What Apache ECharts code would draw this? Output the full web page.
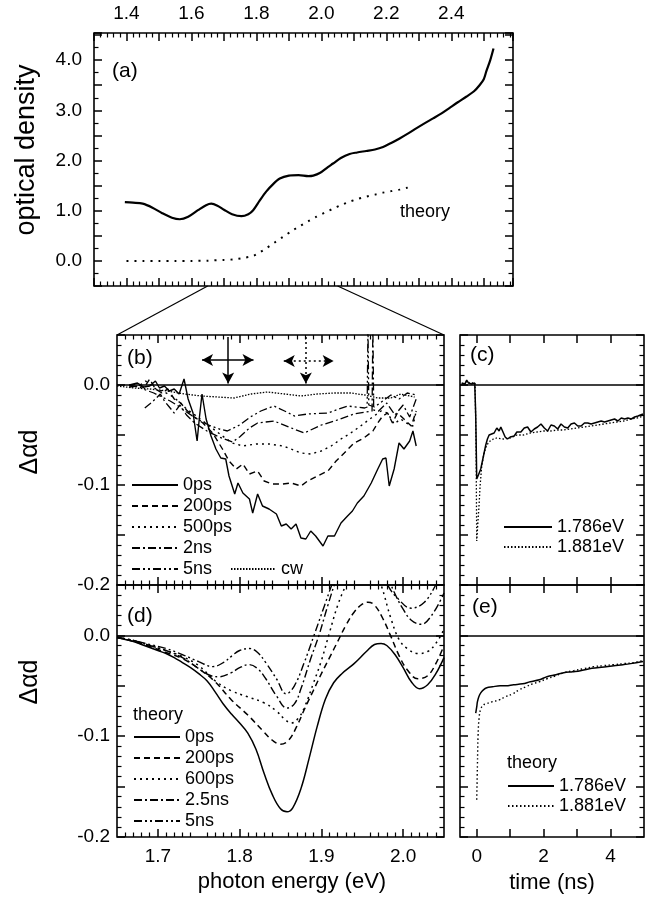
<!DOCTYPE html>
<html><head><meta charset="utf-8">
<script src="https://cdn.jsdelivr.net/npm/echarts@6/dist/echarts.min.js"></script>
<style>html,body{margin:0;padding:0;background:#fff}#c{width:650px;height:899px}</style>
</head><body><div id="c"></div>
<script>
// ---------- DATA ----------
// (a) optical density vs photon energy (eV)
const odMeasured = [[1.395,1.17],[1.42,1.16],[1.45,1.14],[1.48,1.06],[1.51,0.95],[1.54,0.86],[1.564,0.83],[1.59,0.88],[1.62,1.01],[1.645,1.11],[1.661,1.14],[1.68,1.10],[1.70,1.02],[1.725,0.93],[1.754,0.89],[1.775,0.93],[1.79,1.01],[1.81,1.20],[1.83,1.38],[1.85,1.52],[1.872,1.64],[1.90,1.70],[1.93,1.71],[1.96,1.69],[1.975,1.70],[1.995,1.75],[2.02,1.87],[2.036,1.94],[2.06,2.05],[2.087,2.13],[2.11,2.16],[2.138,2.19],[2.165,2.22],[2.19,2.27],[2.215,2.35],[2.241,2.44],[2.27,2.55],[2.292,2.64],[2.32,2.75],[2.344,2.84],[2.37,2.94],[2.395,3.05],[2.42,3.16],[2.446,3.27],[2.47,3.38],[2.487,3.50],[2.5,3.62],[2.508,3.78],[2.52,4.0],[2.53,4.23]];
const odTheory = [[1.4,0],[1.45,0],[1.5,0],[1.55,0],[1.6,0],[1.65,0.005],[1.7,0.02],[1.73,0.03],[1.76,0.06],[1.79,0.1],[1.81,0.17],[1.83,0.25],[1.855,0.36],[1.882,0.48],[1.91,0.6],[1.933,0.69],[1.96,0.79],[1.985,0.88],[2.01,0.96],[2.036,1.04],[2.06,1.11],[2.087,1.18],[2.11,1.23],[2.138,1.28],[2.165,1.32],[2.19,1.36],[2.215,1.39],[2.241,1.42],[2.26,1.45],[2.285,1.49]];
const energyTicksA = [1.4,1.6,1.8,2.0,2.2,2.4];
const odTicks = [0,1,2,3,4];

// (b) measured differential absorption spectra
const delaysB = ['0ps','200ps','500ps','2ns','5ns','cw'];
const b0ps = [[1.665,0.0],[1.675,0.002],[1.683,-0.002],[1.69,-0.001],[1.697,0.004],[1.702,-0.003],[1.708,-0.001],[1.714,-0.006],[1.72,-0.004],[1.726,-0.009],[1.732,0.006],[1.737,-0.014],[1.743,-0.028],[1.748,-0.056],[1.751,-0.031],[1.754,-0.009],[1.759,-0.034],[1.765,-0.051],[1.771,-0.064],[1.777,-0.073],[1.783,-0.074],[1.787,-0.091],[1.794,-0.109],[1.798,-0.098],[1.804,-0.108],[1.812,-0.114],[1.816,-0.128],[1.822,-0.109],[1.828,-0.121],[1.836,-0.124],[1.845,-0.129],[1.851,-0.141],[1.857,-0.139],[1.863,-0.144],[1.869,-0.139],[1.875,-0.153],[1.881,-0.154],[1.887,-0.146],[1.893,-0.151],[1.902,-0.161],[1.908,-0.151],[1.916,-0.151],[1.924,-0.138],[1.932,-0.131],[1.938,-0.126],[1.944,-0.118],[1.952,-0.111],[1.961,-0.098],[1.969,-0.084],[1.975,-0.074],[1.979,-0.073],[1.983,-0.101],[1.989,-0.084],[1.995,-0.058],[2.001,-0.064],[2.008,-0.056],[2.012,-0.046],[2.016,-0.061]];
const b200ps = [[1.665,-0.001],[1.675,0.001],[1.683,-0.003],[1.69,0.006],[1.697,-0.004],[1.705,-0.008],[1.712,-0.004],[1.72,-0.014],[1.728,-0.018],[1.735,-0.025],[1.743,-0.031],[1.755,-0.038],[1.767,-0.048],[1.779,-0.064],[1.787,-0.076],[1.796,-0.084],[1.804,-0.079],[1.812,-0.089],[1.822,-0.086],[1.83,-0.096],[1.84,-0.099],[1.853,-0.099],[1.863,-0.098],[1.875,-0.101],[1.883,-0.096],[1.895,-0.091],[1.908,-0.086],[1.918,-0.076],[1.928,-0.068],[1.94,-0.058],[1.952,-0.053],[1.963,-0.046],[1.969,-0.038],[1.975,-0.031],[1.981,-0.028],[1.987,-0.038],[1.993,-0.028],[2.001,-0.034],[2.01,-0.041],[2.016,-0.026]];
const b500ps = [[1.665,0.0],[1.675,-0.002],[1.685,0.004],[1.695,-0.003],[1.705,-0.006],[1.715,-0.01],[1.725,-0.016],[1.735,-0.024],[1.747,-0.031],[1.763,-0.041],[1.779,-0.051],[1.791,-0.058],[1.804,-0.061],[1.82,-0.059],[1.836,-0.059],[1.853,-0.061],[1.863,-0.064],[1.875,-0.068],[1.887,-0.069],[1.9,-0.066],[1.912,-0.061],[1.924,-0.054],[1.936,-0.048],[1.948,-0.041],[1.961,-0.033],[1.973,-0.026],[1.981,-0.028],[1.989,-0.039],[1.997,-0.034],[2.006,-0.039],[2.012,-0.041],[2.016,-0.026]];
const b2ns = [[1.684,-0.023],[1.69,-0.019],[1.697,-0.014],[1.703,-0.009],[1.708,-0.016],[1.714,-0.022],[1.72,-0.028],[1.727,-0.02],[1.735,-0.03],[1.745,-0.038],[1.76,-0.046],[1.775,-0.052],[1.791,-0.057],[1.8,-0.052],[1.812,-0.043],[1.822,-0.038],[1.842,-0.036],[1.86,-0.042],[1.879,-0.048],[1.9,-0.04],[1.916,-0.036],[1.94,-0.029],[1.955,-0.027],[1.962,-0.026],[1.963,0.06],[1.964,-0.025],[1.97,-0.026],[1.98,-0.018],[1.99,-0.03],[2.0,-0.02],[2.008,-0.032],[2.016,-0.014]];
const b5ns = [[1.665,-0.002],[1.675,-0.001],[1.685,-0.005],[1.695,-0.008],[1.705,-0.012],[1.715,-0.016],[1.725,-0.021],[1.735,-0.027],[1.748,-0.034],[1.762,-0.04],[1.775,-0.044],[1.785,-0.046],[1.8,-0.04],[1.813,-0.032],[1.826,-0.026],[1.842,-0.021],[1.855,-0.026],[1.867,-0.031],[1.883,-0.029],[1.908,-0.028],[1.932,-0.021],[1.953,-0.023],[1.956,-0.022],[1.957,0.06],[1.958,-0.02],[1.965,-0.022],[1.975,-0.016],[1.985,-0.01],[1.995,-0.014],[2.005,-0.008],[2.016,-0.01]];
const bCw = [[1.65,-0.001],[1.671,-0.003],[1.69,-0.004],[1.712,-0.006],[1.733,-0.009],[1.753,-0.011],[1.773,-0.012],[1.793,-0.013],[1.814,-0.009],[1.834,-0.007],[1.855,-0.009],[1.875,-0.011],[1.895,-0.009],[1.916,-0.008],[1.936,-0.008],[1.953,-0.01],[1.969,-0.013],[1.985,-0.013],[1.997,-0.009],[2.014,-0.012]];

// (d) theory spectra
const delaysD = ['0ps','200ps','600ps','2.5ns','5ns'];
const d0ps = [[1.65,-0.002],[1.66,-0.004],[1.67,-0.006],[1.68,-0.009],[1.69,-0.012],[1.70,-0.015],[1.71,-0.018],[1.72,-0.022],[1.73,-0.027],[1.74,-0.032],[1.75,-0.038],[1.76,-0.045],[1.77,-0.056],[1.78,-0.068],[1.79,-0.078],[1.80,-0.087],[1.81,-0.097],[1.82,-0.113],[1.83,-0.137],[1.84,-0.158],[1.85,-0.172],[1.858,-0.175],[1.865,-0.171],[1.875,-0.152],[1.885,-0.122],[1.895,-0.09],[1.905,-0.063],[1.915,-0.047],[1.925,-0.038],[1.94,-0.028],[1.955,-0.016],[1.965,-0.009],[1.973,-0.008],[1.98,-0.01],[1.99,-0.019],[2.0,-0.032],[2.01,-0.046],[2.02,-0.053],[2.03,-0.049],[2.04,-0.038],[2.05,-0.022]];
const d200ps = [[1.65,-0.002],[1.67,-0.006],[1.69,-0.011],[1.71,-0.017],[1.73,-0.023],[1.75,-0.033],[1.77,-0.046],[1.79,-0.064],[1.81,-0.079],[1.83,-0.096],[1.84,-0.104],[1.85,-0.108],[1.86,-0.104],[1.87,-0.09],[1.88,-0.072],[1.89,-0.055],[1.90,-0.038],[1.91,-0.022],[1.92,-0.006],[1.93,0.01],[1.94,0.023],[1.95,0.031],[1.957,0.033],[1.965,0.03],[1.975,0.017],[1.985,-0.001],[1.995,-0.02],[2.005,-0.034],[2.018,-0.043],[2.03,-0.04],[2.04,-0.028],[2.05,-0.01]];
const d600ps = [[1.65,-0.002],[1.67,-0.005],[1.69,-0.01],[1.71,-0.015],[1.73,-0.021],[1.75,-0.03],[1.77,-0.045],[1.79,-0.055],[1.81,-0.061],[1.83,-0.067],[1.845,-0.075],[1.855,-0.083],[1.863,-0.087],[1.872,-0.082],[1.88,-0.07],[1.89,-0.048],[1.90,-0.025],[1.91,0.003],[1.92,0.03],[1.93,0.05],[1.94,0.068],[1.952,0.075],[1.963,0.068],[1.973,0.05],[1.985,0.017],[1.995,-0.004],[2.005,-0.013],[2.018,-0.018],[2.03,-0.016],[2.04,-0.008],[2.05,0.006]];
const d2p5ns = [[1.65,-0.002],[1.67,-0.005],[1.69,-0.01],[1.71,-0.015],[1.73,-0.022],[1.75,-0.033],[1.765,-0.04],[1.775,-0.041],[1.79,-0.037],[1.80,-0.032],[1.812,-0.029],[1.822,-0.033],[1.832,-0.043],[1.845,-0.06],[1.858,-0.072],[1.867,-0.068],[1.875,-0.053],[1.887,-0.023],[1.897,0.0],[1.908,0.03],[1.92,0.06],[1.935,0.09],[1.95,0.1],[1.965,0.09],[1.978,0.065],[1.989,0.043],[2.0,0.026],[2.01,0.015],[2.022,0.011],[2.035,0.02],[2.05,0.042]];
const d5ns = [[1.65,-0.002],[1.67,-0.005],[1.69,-0.009],[1.71,-0.013],[1.73,-0.019],[1.75,-0.026],[1.767,-0.031],[1.78,-0.027],[1.791,-0.02],[1.80,-0.015],[1.812,-0.013],[1.822,-0.017],[1.832,-0.027],[1.845,-0.043],[1.857,-0.058],[1.867,-0.05],[1.879,-0.027],[1.891,0.0],[1.904,0.03],[1.915,0.055],[1.93,0.085],[1.945,0.1],[1.96,0.09],[1.972,0.068],[1.981,0.05],[1.993,0.037],[2.01,0.027],[2.026,0.033],[2.04,0.05],[2.05,0.065]];
const energyTicksBD = [1.7,1.8,1.9,2.0];
const dadTicks = [0,-0.1,-0.2];
const zoomRange = [1.65, 2.05];

// (c) measured transients, (e) theory transients
const probeEnergies = ['1.786eV','1.881eV'];
const c1786 = [[-0.45,0.002],[-0.4,0.004],[-0.35,0.001],[-0.3,0.005],[-0.25,0.002],[-0.2,0.004],[-0.15,0.001],[-0.1,0.003],[-0.06,0.002],[-0.03,-0.03],[0.0,-0.094],[0.05,-0.09],[0.12,-0.084],[0.17,-0.076],[0.22,-0.068],[0.27,-0.06],[0.32,-0.054],[0.37,-0.05],[0.42,-0.049],[0.52,-0.048],[0.6,-0.043],[0.67,-0.046],[0.72,-0.042],[0.77,-0.044],[0.85,-0.052],[0.92,-0.054],[1.0,-0.052],[1.12,-0.051],[1.2,-0.047],[1.32,-0.047],[1.42,-0.043],[1.52,-0.042],[1.62,-0.047],[1.72,-0.044],[1.82,-0.042],[1.92,-0.039],[2.02,-0.043],[2.12,-0.046],[2.22,-0.04],[2.32,-0.041],[2.42,-0.044],[2.52,-0.039],[2.62,-0.042],[2.72,-0.043],[2.82,-0.039],[2.92,-0.038],[3.02,-0.041],[3.12,-0.041],[3.22,-0.038],[3.32,-0.038],[3.42,-0.039],[3.52,-0.038],[3.62,-0.037],[3.72,-0.036],[3.82,-0.037],[3.92,-0.036],[4.02,-0.035],[4.12,-0.034],[4.22,-0.036],[4.32,-0.033],[4.42,-0.034],[4.52,-0.033],[4.62,-0.034],[4.72,-0.032],[4.82,-0.031],[4.97,-0.029]];
const c1881 = [[-0.45,0.001],[-0.3,0.003],[-0.15,0.002],[-0.05,0.002],[-0.02,-0.06],[0.0,-0.156],[0.03,-0.14],[0.07,-0.12],[0.1,-0.101],[0.15,-0.081],[0.22,-0.068],[0.3,-0.06],[0.4,-0.056],[0.5,-0.054],[0.6,-0.053],[0.8,-0.054],[1.0,-0.053],[1.2,-0.05],[1.4,-0.05],[1.6,-0.048],[1.8,-0.047],[2.0,-0.046],[2.2,-0.046],[2.4,-0.045],[2.6,-0.045],[2.8,-0.044],[3.0,-0.043],[3.2,-0.042],[3.4,-0.041],[3.6,-0.04],[3.8,-0.039],[4.0,-0.038],[4.2,-0.037],[4.4,-0.036],[4.6,-0.034],[4.8,-0.033],[4.97,-0.031]];
const e1786 = [[-0.03,-0.077],[0.0,-0.071],[0.02,-0.066],[0.06,-0.061],[0.12,-0.057],[0.2,-0.054],[0.3,-0.052],[0.47,-0.051],[0.7,-0.05],[0.87,-0.05],[1.1,-0.049],[1.37,-0.048],[1.6,-0.046],[1.87,-0.044],[2.1,-0.041],[2.37,-0.039],[2.6,-0.037],[2.87,-0.036],[3.1,-0.035],[3.37,-0.033],[3.6,-0.032],[3.87,-0.031],[4.1,-0.03],[4.37,-0.029],[4.6,-0.028],[4.97,-0.026]];
const e1881 = [[0.0,-0.163],[0.02,-0.13],[0.04,-0.1],[0.07,-0.082],[0.12,-0.073],[0.2,-0.069],[0.27,-0.068],[0.45,-0.066],[0.67,-0.064],[0.85,-0.061],[1.07,-0.058],[1.27,-0.054],[1.47,-0.051],[1.67,-0.048],[1.87,-0.046],[2.1,-0.043],[2.37,-0.04],[2.6,-0.037],[2.9,-0.035],[3.2,-0.033],[3.5,-0.031],[3.8,-0.03],[4.1,-0.029],[4.4,-0.028],[4.7,-0.027],[4.97,-0.025]];
const timeLabels = [0,2,4];
const timeTicks = [0,1,2,3,4];
const pumpArrow = [1.786, 1.881];
const pumpWidth = [[1.754,1.817],[1.854,1.915]];

// ---------- STYLES ----------
const FONT = '"Liberation Sans", Arial, Helvetica, sans-serif';
const K = '#000';
const SOLID = 'solid', DASH = [6,4], DOT = [2,4], DASHDOT = [8,3,2,3], DASHDOTDOT = [8,3,2,3,2,3], FINE = [1.5,1.5], SPARSE = [2,6];

const chart = echarts.init(document.getElementById('c'), null, {renderer:'canvas'});

const MAJ = {show:true, inside:true, length:8, lineStyle:{color:K, width:1.5}};
const MIN = (n) => ({show:true, splitNumber:n, length:4.5, lineStyle:{color:K, width:1.2}});
function axisOf(grid, pos, min, max, interval, extra) {
  return Object.assign({
    type:'value', gridIndex:grid, position:pos, min, max, interval,
    axisLine:{show:false, onZero:false}, splitLine:{show:false}, minorSplitLine:{show:false},
    axisTick:MAJ, minorTick:{show:false}, axisLabel:{show:false}
  }, extra || {});
}
const tickLbl = (vals, fmt, margin) => ({show:true, customValues:vals, color:K, fontSize:19, fontFamily:FONT, margin, formatter:fmt});
const f1 = v => (Math.abs(v) < 1e-9 ? 0 : v).toFixed(1);
const eTick = Object.assign({}, MAJ, {customValues:energyTicksBD});
const tTick = Object.assign({}, MAJ, {customValues:timeTicks});

const xAxes = [
  // 0,1 : (a)
  axisOf(0,'top',1.3,2.59,0.1,{minorTick:MIN(5), axisLabel:tickLbl(energyTicksA,f1,10)}),
  axisOf(0,'bottom',1.3,2.59,0.1,{minorTick:MIN(5)}),
  // 2,3 : (b)
  axisOf(1,'top',zoomRange[0],zoomRange[1],0.05,{axisTick:eTick,minorTick:MIN(5)}),
  axisOf(1,'bottom',zoomRange[0],zoomRange[1],0.05,{axisTick:eTick,minorTick:MIN(5)}),
  // 4,5 : (d)
  axisOf(2,'top',zoomRange[0],zoomRange[1],0.05,{axisTick:eTick,minorTick:MIN(5)}),
  axisOf(2,'bottom',zoomRange[0],zoomRange[1],0.05,{axisTick:eTick,minorTick:MIN(5), axisLabel:tickLbl(energyTicksBD,f1,10)}),
  // 6,7 : (c)
  axisOf(3,'top',-0.5,5,0.5,{axisTick:tTick}),
  axisOf(3,'bottom',-0.5,5,0.5,{axisTick:tTick}),
  // 8,9 : (e)
  axisOf(4,'top',-0.5,5,0.5,{axisTick:tTick}),
  axisOf(4,'bottom',-0.5,5,0.5,{axisTick:tTick, axisLabel:tickLbl(timeLabels,v=>String(v),10)})
];
const yAxes = [
  axisOf(0,'left',-0.5,4.54,0.5,{minorTick:MIN(2), axisLabel:tickLbl(odTicks,f1,12)}),
  axisOf(0,'right',-0.5,4.54,0.5,{minorTick:MIN(2)}),
  axisOf(1,'left',-0.2,0.05,0.05,{minorTick:MIN(5), axisLabel:tickLbl(dadTicks,f1,7)}),
  axisOf(1,'right',-0.2,0.05,0.05,{minorTick:MIN(5)}),
  axisOf(2,'left',-0.2,0.05,0.05,{minorTick:MIN(5), axisLabel:tickLbl(dadTicks,f1,7)}),
  axisOf(2,'right',-0.2,0.05,0.05,{minorTick:MIN(5)}),
  axisOf(3,'left',-0.2,0.05,0.05,{minorTick:MIN(5)}),
  axisOf(3,'right',-0.2,0.05,0.05,{minorTick:MIN(5)}),
  axisOf(4,'left',-0.2,0.05,0.05,{minorTick:MIN(5)}),
  axisOf(4,'right',-0.2,0.05,0.05,{minorTick:MIN(5)})
];

const zeroLine = {silent:true, symbol:'none', label:{show:false}, animation:false,
  lineStyle:{color:K, type:'solid', width:1.5}, data:[{yAxis:0}]};

function ln(name, data, xi, yi, dash, width, smooth, extra) {
  return Object.assign({type:'line', name, data, xAxisIndex:xi, yAxisIndex:yi, symbol:'none', showSymbol:false,
    smooth: smooth || false, animation:false, silent:true,
    lineStyle:{color:K, width, type:dash}, itemStyle:{color:K}}, extra || {});
}

const arrowMark = {
  silent:true, animation:false, label:{show:false}, symbolSize:[9,11],
  data:[
    [{coord:[pumpArrow[0],0.048], symbol:'none'},{coord:[pumpArrow[0],0.0015], symbol:'arrow', lineStyle:{type:'solid',width:1.5,color:K}}],
    [{coord:[pumpWidth[0][0],0.025], symbol:'arrow'},{coord:[pumpWidth[0][1],0.025], symbol:'arrow', lineStyle:{type:'solid',width:1.5,color:K}}],
    [{coord:[pumpArrow[1],0.048], symbol:'none'},{coord:[pumpArrow[1],0.0015], symbol:'arrow', lineStyle:{type:[2,3],width:1.5,color:K}}],
    [{coord:[pumpWidth[1][0],0.024], symbol:'arrow'},{coord:[pumpWidth[1][1],0.024], symbol:'arrow', lineStyle:{type:[2,3],width:1.5,color:K}}]
  ]
};

const series = [
  ln('a:measured', odMeasured, 0, 0, SOLID, 2.2, 0.3),
  ln('a:theory', odTheory, 0, 0, SPARSE, 2, 0.3),
  ln('b:0ps', b0ps, 3, 2, SOLID, 1.4, false, {markLine:zeroLine}),
  ln('b:200ps', b200ps, 3, 2, DASH, 1.4),
  ln('b:500ps', b500ps, 3, 2, DOT, 1.4),
  ln('b:2ns', b2ns, 3, 2, DASHDOT, 1.3),
  ln('b:5ns', b5ns, 3, 2, DASHDOTDOT, 1.3),
  ln('b:cw', bCw, 3, 2, FINE, 1.3, false, {markLine:arrowMark}),
  ln('d:0ps', d0ps, 5, 4, SOLID, 1.5, 0.4, {markLine:zeroLine}),
  ln('d:200ps', d200ps, 5, 4, DASH, 1.5, 0.4),
  ln('d:600ps', d600ps, 5, 4, DOT, 1.5, 0.4),
  ln('d:2.5ns', d2p5ns, 5, 4, DASHDOT, 1.4, 0.4),
  ln('d:5ns', d5ns, 5, 4, DASHDOTDOT, 1.4, 0.4),
  ln('c:1.786eV', c1786, 7, 6, SOLID, 1.5, false, {markLine:zeroLine, z:4}),
  ln('c:1.881eV', c1881, 7, 6, [1.5,2], 1.3),
  ln('e:1.786eV', e1786, 9, 8, SOLID, 1.5, 0.4, {markLine:zeroLine}),
  ln('e:1.881eV', e1881, 9, 8, [1.5,2.5], 1.4, 0.4)
];

const legendBase = {orient:'vertical', selectedMode:false, padding:0, itemHeight:10,
  itemStyle:{opacity:0}, textStyle:{fontSize:18, fontFamily:FONT, color:K, padding:[0,0,0,0]},
  formatter: n => n.split(':')[1]};
const legends = [
  Object.assign({}, legendBase, {data:delaysB.slice(0,5).map(d=>'b:'+d), left:131, top:476, itemWidth:46, itemGap:3}),
  Object.assign({}, legendBase, {data:['b:cw'], left:230, top:560, itemWidth:45, itemGap:3}),
  Object.assign({}, legendBase, {data:delaysD.map(d=>'d:'+d), left:133, top:728, itemWidth:46, itemGap:3}),
  Object.assign({}, legendBase, {data:probeEnergies.map(d=>'c:'+d), left:503, top:518, itemWidth:48, itemGap:2}),
  Object.assign({}, legendBase, {data:probeEnergies.map(d=>'e:'+d), left:507, top:777, itemWidth:46, itemGap:2})
];

function txt(x, y, s, size) {
  return {type:'text', x, y, silent:true,
    style:{text:s, fill:K, font:size+'px '+FONT, textAlign:'left', textVerticalAlign:'middle'}};
}
function rtxt(x, y, s, size) {
  return {type:'text', x, y, rotation:Math.PI/2, silent:true,
    style:{text:s, fill:K, font:size+'px '+FONT, textAlign:'center', textVerticalAlign:'middle'}};
}
function ctxt(x, y, s, size) {
  return {type:'text', x, y, silent:true,
    style:{text:s, fill:K, font:size+'px '+FONT, textAlign:'center', textVerticalAlign:'middle'}};
}

const grids = [
  {left:94, top:33, width:419, height:253},
  {left:117, top:335, width:327, height:250},
  {left:117, top:585, width:327, height:252},
  {left:460, top:335, width:184, height:250},
  {left:460, top:585, width:184, height:252}
].map(g => Object.assign(g, {show:true, borderColor:K, borderWidth:1.6, backgroundColor:'transparent', containLabel:false}));

chart.setOption({
  animation:false,
  backgroundColor:'#fff',
  textStyle:{fontFamily:FONT},
  grid:grids, xAxis:xAxes, yAxis:yAxes, series, legend:legends
});

// connecting lines from the zoom window of (a) to panel (b), plus texts
const pA0 = chart.convertToPixel({xAxisIndex:1, yAxisIndex:0}, [zoomRange[0], -0.5]);
const pA1 = chart.convertToPixel({xAxisIndex:1, yAxisIndex:0}, [zoomRange[1], -0.5]);
const pB0 = chart.convertToPixel({xAxisIndex:3, yAxisIndex:2}, [zoomRange[0], 0.05]);
const pB1 = chart.convertToPixel({xAxisIndex:3, yAxisIndex:2}, [zoomRange[1], 0.05]);

chart.setOption({graphic:[
  {type:'line', silent:true, shape:{x1:pA0[0],y1:pA0[1],x2:pB0[0],y2:pB0[1]}, style:{stroke:K, lineWidth:1.2}},
  {type:'line', silent:true, shape:{x1:pA1[0],y1:pA1[1],x2:pB1[0],y2:pB1[1]}, style:{stroke:K, lineWidth:1.2}},
  txt(112, 71, '(a)', 21),
  txt(127, 358, '(b)', 21),
  txt(470, 355, '(c)', 21),
  txt(127, 616, '(d)', 21),
  txt(472, 607, '(e)', 21),
  txt(400, 212, 'theory', 18),
  txt(133, 715, 'theory', 18),
  txt(507, 763, 'theory', 18),
  rtxt(27, 150, 'optical density', 27),
  rtxt(30, 452, 'Δαd', 25),
  rtxt(30, 682, 'Δαd', 25),
  ctxt(292, 882, 'photon energy (eV)', 22),
  ctxt(552, 883, 'time (ns)', 22)
]});
</script></body></html>
